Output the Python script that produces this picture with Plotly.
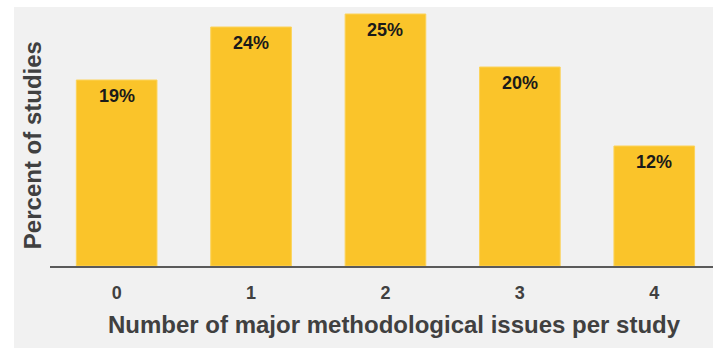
import plotly.graph_objects as go

categories = ["0", "1", "2", "3", "4"]
values = [18.6, 23.9, 25.2, 19.9, 12.0]
labels = ["19%", "24%", "25%", "20%", "12%"]
x_title = "Number of major methodological issues per study"
y_title = "Percent of studies"

BAR = "#FAC42A"
BG = "#F1F1F1"
TXT = "#404040"
FONT = "Liberation Sans, Arial, sans-serif"

xs = list(range(len(categories)))

fig = go.Figure()
fig.add_trace(go.Bar(
    x=xs, y=values, width=0.6,
    marker=dict(color=BAR, line=dict(color="#FCD35A", width=1)),
    hoverinfo="skip",
))

for x, v, t in zip(xs, values, labels):
    fig.add_annotation(x=x, y=v, text=f"<b>{t}</b>", showarrow=False,
                       yanchor="top", yshift=-4,
                       font=dict(family=FONT, size=18, color="#1A1A1A"))

fig.add_annotation(xref="paper", yref="paper", x=-0.027, y=0.467,
                   text=f"<b>{y_title}</b>", textangle=-90, showarrow=False,
                   xanchor="center", yanchor="middle",
                   font=dict(family=FONT, size=24, color=TXT))
fig.add_annotation(xref="paper", yref="paper", x=0.52, y=-0.225,
                   text=f"<b>{x_title}</b>", showarrow=False,
                   xanchor="center", yanchor="middle",
                   font=dict(family=FONT, size=24, color=TXT))

# white border strips (top and left) around gray panel
fig.add_shape(type="rect", xref="paper", yref="paper", x0=-0.2, x1=1.1, y0=1.0, y1=1.2,
              fillcolor="white", line=dict(width=0), layer="below")
fig.add_shape(type="rect", xref="paper", yref="paper", x0=-0.2, x1=-0.0543, y0=-0.5, y1=1.2,
              fillcolor="white", line=dict(width=0), layer="below")

fig.update_layout(
    width=713, height=348,
    margin=dict(l=50, r=0, t=7, b=82),
    paper_bgcolor=BG, plot_bgcolor=BG,
    showlegend=False,
    bargap=0.4,
)
fig.update_xaxes(
    range=[-0.496, 4.437],
    tickmode="array", tickvals=xs, ticktext=[f"<b>{c}</b>" for c in categories],
    tickfont=dict(family=FONT, size=18, color=TXT),
    ticklabelstandoff=10,
    showline=True, linecolor="#5A5A5A", linewidth=1.5,
    showgrid=False, zeroline=False, ticks="", ticklen=0,
)
fig.update_yaxes(
    range=[0, 25.9], visible=False, showgrid=False, zeroline=False,
)

fig.write_html("out.html")
